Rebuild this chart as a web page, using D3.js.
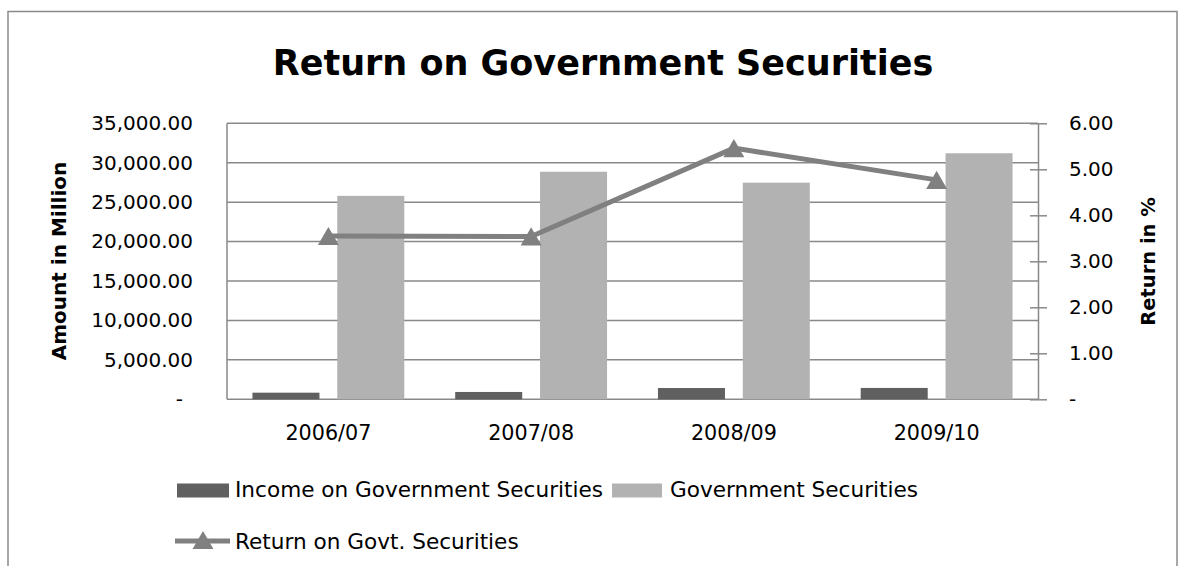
<!DOCTYPE html>
<html lang="en">
<head>
    <meta charset="UTF-8">
    <title>Return on Government Securities</title>
    <script src="https://cdnjs.cloudflare.com/ajax/libs/d3/7.8.5/d3.min.js"></script>
    <style>
        body {
            margin: 0;
            background: #fff;
        }
        svg {
            display: block;
            font-family: "DejaVu Sans", sans-serif;
        }
        .grid line {
            stroke: #898989;
            stroke-width: 1.5px;
        }
        .axis text {
            font-size: 20px;
            fill: #000;
        }
        .axis.cat text {
            font-size: 20.7px;
        }
    </style>
</head>
<body>
    <svg width="1183" height="566"></svg>

    <script>
        // data
        const years = ["2006/07", "2007/08", "2008/09", "2009/10"];
        const seriesNames = ["Income on Government Securities", "Government Securities"];
        const income = [840, 930, 1430, 1440];
        const securities = [25800, 28860, 27470, 31200];
        const returnPct = [3.55, 3.54, 5.46, 4.77];
        const lineName = "Return on Govt. Securities";
        const leftTicks = [0, 5000, 10000, 15000, 20000, 25000, 30000, 35000];
        const rightTicks = [0, 1, 2, 3, 4, 5, 6];

        const barColors = ["#606060", "#b2b2b2"];
        const lineColor = "#808080";

        const svg = d3.select("svg");
        const plot = { left: 227, right: 1038, top: 123.3, bottom: 399.3 };

        // outer chart border
        svg.append("rect")
            .attr("x", 8).attr("y", 11.5)
            .attr("width", 1169).attr("height", 600)
            .attr("fill", "none")
            .attr("stroke", "#8a8a8a")
            .attr("stroke-width", 1.5);

        svg.append("text")
            .attr("x", 603).attr("y", 75)
            .attr("text-anchor", "middle")
            .attr("font-size", 35)
            .attr("font-weight", "bold")
            .text("Return on Government Securities");

        const x = d3.scaleBand()
            .domain(years)
            .range([plot.left, plot.right]);

        const x1 = d3.scaleBand()
            .domain(seriesNames)
            .range([0, x.bandwidth()])
            .paddingInner(0.21)
            .paddingOuter(0.3);

        const yLeft = d3.scaleLinear()
            .domain([0, 35000])
            .range([plot.bottom, plot.top]);

        const yRight = d3.scaleLinear()
            .domain([0, 6])
            .range([plot.bottom, plot.top]);

        // gridlines
        svg.append("g")
            .attr("class", "grid")
            .selectAll("line")
            .data(leftTicks)
            .enter()
            .append("line")
            .attr("x1", plot.left)
            .attr("x2", plot.right)
            .attr("y1", d => yLeft(d))
            .attr("y2", d => yLeft(d));

        svg.append("line")
            .attr("x1", plot.left).attr("x2", plot.left)
            .attr("y1", plot.top).attr("y2", plot.bottom)
            .attr("stroke", "#898989")
            .attr("stroke-width", 1.5);

        // bars
        const barData = years.map((yr, i) => [
            { year: yr, key: seriesNames[0], value: income[i] },
            { year: yr, key: seriesNames[1], value: securities[i] }
        ]);

        svg.append("g")
            .selectAll("g")
            .data(barData)
            .enter()
            .append("g")
            .attr("transform", d => `translate(${x(d[0].year)},0)`)
            .selectAll("rect")
            .data(d => d)
            .enter()
            .append("rect")
            .attr("x", d => x1(d.key))
            .attr("width", x1.bandwidth())
            .attr("y", d => yLeft(d.value))
            .attr("height", d => yLeft(0) - yLeft(d.value))
            .attr("fill", (d, i) => barColors[i]);

        // left axis
        const leftAxis = svg.append("g")
            .attr("class", "axis")
            .attr("transform", `translate(${plot.left},0)`)
            .call(d3.axisLeft(yLeft)
                .tickValues(leftTicks)
                .tickSize(0)
                .tickPadding(34)
                .tickFormat(d => d === 0 ? "-" : d3.format(",.2f")(d)));
        leftAxis.attr("font-family", null).attr("font-size", null);
        leftAxis.select(".domain").remove();
        leftAxis.selectAll("text")
            .filter(d => d === 0).attr("dx", -10);

        // right axis
        const rightAxis = svg.append("g")
            .attr("class", "axis")
            .attr("transform", `translate(${plot.right},0)`)
            .call(d3.axisRight(yRight)
                .tickValues(rightTicks)
                .tickSizeInner(9)
                .tickSizeOuter(0)
                .tickPadding(22)
                .tickFormat(d => d === 0 ? "-" : d3.format(".2f")(d)));
        rightAxis.attr("font-family", null).attr("font-size", null);
        rightAxis.select(".domain").attr("stroke", "#898989").attr("stroke-width", 1.5);
        rightAxis.selectAll(".tick line")
            .attr("x1", -8)
            .attr("stroke", "#898989")
            .attr("stroke-width", 1.5);

        // category axis
        const bottomAxis = svg.append("g")
            .attr("class", "axis cat")
            .attr("transform", `translate(0,${plot.bottom})`)
            .call(d3.axisBottom(x).tickSize(0).tickPadding(26));
        bottomAxis.attr("font-family", null).attr("font-size", null);
        bottomAxis.select(".domain").remove();

        // axis titles
        svg.append("text")
            .attr("transform", "translate(66,261) rotate(-90)")
            .attr("text-anchor", "middle")
            .attr("font-size", 20)
            .attr("font-weight", "bold")
            .text("Amount in Million");

        svg.append("text")
            .attr("transform", "translate(1155,261.5) rotate(-90)")
            .attr("text-anchor", "middle")
            .attr("font-size", 19.5)
            .attr("font-weight", "bold")
            .text("Return in %");

        // return line with triangle markers
        const cx = d => x(d) + x.bandwidth() / 2;
        const line = d3.line()
            .x((d, i) => cx(years[i]))
            .y(d => yRight(d));

        svg.append("path")
            .datum(returnPct)
            .attr("d", line)
            .attr("fill", "none")
            .attr("stroke", lineColor)
            .attr("stroke-width", 5);

        const tri = d3.symbol().type(d3.symbolTriangle).size(190);
        svg.append("g")
            .selectAll("path")
            .data(returnPct)
            .enter()
            .append("path")
            .attr("d", tri)
            .attr("transform", (d, i) => `translate(${cx(years[i])},${yRight(d) + 3})`)
            .attr("fill", lineColor);

        // legend
        const legend = svg.append("g").attr("font-size", 21.6);

        legend.append("rect")
            .attr("x", 177).attr("y", 483.5)
            .attr("width", 52).attr("height", 14)
            .attr("fill", barColors[0]);
        const t1 = legend.append("text")
            .attr("x", 235).attr("y", 497)
            .text(seriesNames[0]);

        const x2 = 235 + t1.node().getComputedTextLength() + 9;
        legend.append("rect")
            .attr("x", x2).attr("y", 483.5)
            .attr("width", 50).attr("height", 14)
            .attr("fill", barColors[1]);
        legend.append("text")
            .attr("x", x2 + 58).attr("y", 497)
            .text(seriesNames[1]);

        legend.append("line")
            .attr("x1", 175).attr("x2", 230)
            .attr("y1", 541).attr("y2", 541)
            .attr("stroke", lineColor)
            .attr("stroke-width", 5);
        legend.append("path")
            .attr("d", tri)
            .attr("transform", "translate(203,543)")
            .attr("fill", lineColor);
        legend.append("text")
            .attr("x", 235).attr("y", 549)
            .text(lineName);
    </script>
</body>
</html>
